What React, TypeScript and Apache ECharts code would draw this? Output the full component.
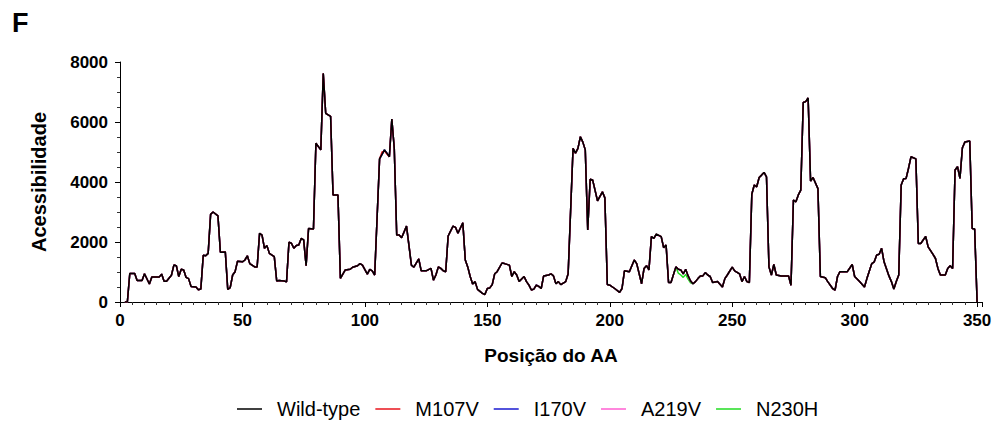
import React, { useEffect, useRef } from "react";
import * as echarts from "echarts";

const wildType: [number, number][] = [
  [2,0],[3,0],[4,950],[6,950],[7,720],[9,720],[10,940],[12,600],[13,830],[16,830],[17,930],[18,690],[19,690],[21,890],[22,1230],[23,1210],[24,850],[25,1090],[26,1070],[27,820],[28,780],[29,520],[31,500],[32,410],[33,430],[34,1560],[35,1540],[36,1620],[37,2920],[38,3000],[40,2870],[41,1660],[43,1670],[44,420],[45,480],[46,900],[47,1010],[48,1360],[50,1340],[51,1400],[52,1540],[53,1280],[55,1170],[56,1170],[57,2290],[58,2230],[59,1790],[60,1880],[61,1620],[63,1510],[64,700],[65,720],[67,700],[68,670],[69,1990],[70,1960],[71,1790],[72,1880],[73,1900],[74,2120],[75,2070],[76,1210],[77,2450],[79,2430],[80,5290],[82,5070],[83,7620],[84,6290],[86,6190],[87,3570],[89,3570],[90,790],[92,1070],[94,1090],[95,1160],[97,1210],[98,1280],[99,1230],[101,930],[102,1090],[103,1040],[104,900],[106,4770],[108,5070],[109,4960],[110,4840],[111,6100],[112,5120],[113,2230],[114,2230],[115,2140],[117,2530],[119,1230],[120,1160],[122,1440],[123,1040],[125,1040],[127,1120],[128,730],[129,900],[130,1170],[131,1120],[132,1040],[133,1010],[134,2200],[136,2530],[137,2490],[138,2290],[140,2640],[141,1400],[142,1170],[143,850],[144,600],[145,680],[146,420],[148,290],[149,250],[150,450],[151,470],[152,580],[153,940],[154,1010],[156,1300],[157,1280],[159,1230],[160,850],[161,1010],[162,900],[163,680],[165,850],[166,680],[167,560],[168,400],[169,430],[170,560],[171,520],[172,450],[173,870],[175,900],[176,940],[177,870],[178,610],[179,680],[180,580],[182,680],[183,940],[185,5120],[186,4960],[187,5120],[188,5510],[189,5330],[190,5070],[191,2400],[192,4090],[193,4070],[195,3370],[197,3670],[198,3470],[199,580],[200,560],[202,450],[204,320],[205,450],[206,1040],[208,1010],[210,1400],[211,1280],[213,610],[214,1120],[215,1210],[216,1070],[217,2180],[218,2120],[219,2260],[221,2180],[222,1810],[223,1900],[224,650],[225,650],[227,1170],[228,1090],[229,1070],[230,940],[231,1090],[232,870],[233,700],[234,610],[235,680],[236,780],[237,870],[238,870],[239,980],[240,900],[241,850],[242,650],[244,680],[246,500],[247,780],[248,900],[250,1160],[251,1040],[253,940],[254,680],[255,850],[256,680],[257,650],[258,3590],[259,3900],[260,3840],[261,4150],[262,4230],[263,4320],[264,4170],[265,1170],[266,900],[267,1250],[268,900],[270,870],[273,870],[274,560],[275,3400],[276,3340],[277,3570],[278,3730],[279,6650],[280,6680],[281,6800],[282,4030],[283,4150],[285,3780],[286,850],[288,810],[289,680],[291,450],[292,400],[293,850],[294,1010],[297,1010],[299,1250],[300,850],[302,680],[304,500],[305,780],[307,1280],[308,1340],[309,1570],[310,1590],[311,1790],[312,1340],[314,870],[315,680],[316,430],[317,680],[318,900],[319,3900],[320,4110],[321,4120],[322,4460],[323,4840],[325,4770],[326,1950],[327,1950],[329,2190],[330,1840],[332,1590],[333,1450],[334,1120],[335,900],[337,900],[338,1120],[339,1210],[340,1120],[341,4400],[342,4510],[343,4120],[344,5140],[345,5330],[347,5370],[348,2450],[349,2430],[350,0]
];

// Positions where each mutant differs from the wild type
const m107vDiff: [number, number][] = [[107,5000],[108,5030],[109,4930]];
const i170vDiff: [number, number][] = [[170,570]];
const a219vDiff: [number, number][] = [[219,2240],[220,2210]];
const n230hDiff: [number, number][] = [[228,960],[229,900],[230,820],[231,920],[232,760],[233,640]];

const seriesNames = ["Wild-type", "M107V", "I170V", "A219V", "N230H"];
const seriesColors = ["#000000", "#e8141c", "#1a1ad0", "#ff5fd2", "#22dd22"];

const xTicks = { min: 0, max: 352, interval: 50 };
const yTicks = { min: 0, max: 8000, interval: 2000 };

function withDiff(base: [number, number][], diff: [number, number][]) {
  const m = new Map<number, number>();
  base.forEach(([x, y]) => m.set(x, y));
  diff.forEach(([x, y]) => m.set(x, y));
  return Array.from(m.entries()).sort((a, b) => a[0] - b[0]);
}

export default function App() {
  const ref = useRef<HTMLDivElement>(null);
  useEffect(() => {
    document.body.style.margin = "0";
    const chart = echarts.init(ref.current!, null, { renderer: "svg" });
    const datasets = [
      wildType,
      withDiff(wildType, m107vDiff),
      withDiff(wildType, i170vDiff),
      withDiff(wildType, a219vDiff),
      withDiff(wildType, n230hDiff),
    ];
    const font = "Liberation Sans, Arial, sans-serif";
    chart.setOption({
      animation: false,
      backgroundColor: "#ffffff",
      title: {
        text: "F",
        left: 7,
        top: 4,
        textStyle: { fontSize: 27, fontWeight: "bold", color: "#000", fontFamily: font },
      },
      legend: {
        data: seriesNames,
        top: 394,
        left: 232,
        icon: "rect",
        itemWidth: 25,
        itemHeight: 1.5,
        itemGap: 15,
        textStyle: { fontSize: 20, color: "#000", fontFamily: font, padding: [0, 0, 0, 10] },
      },
      grid: { left: 120, right: 15, top: 62, bottom: 119 },
      xAxis: {
        type: "value",
        min: xTicks.min,
        max: xTicks.max,
        interval: xTicks.interval,
        name: "Posição do AA",
        nameLocation: "middle",
        nameGap: 44,
        nameTextStyle: { fontSize: 19, fontWeight: "bold", color: "#000", fontFamily: font },
        axisLine: { show: true, lineStyle: { color: "#000", width: 1 } },
        axisTick: { show: true, length: 5, lineStyle: { color: "#000" } },
        minorTick: { show: true, splitNumber: 10, length: 3, lineStyle: { color: "#333" } },
        axisLabel: { fontSize: 17, fontWeight: "bold", color: "#000", fontFamily: font, margin: 10, showMaxLabel: false },
        splitLine: { show: false },
      },
      yAxis: {
        type: "value",
        min: yTicks.min,
        max: yTicks.max,
        interval: yTicks.interval,
        name: "Acessibilidade",
        nameLocation: "middle",
        nameGap: 71,
        nameTextStyle: { fontSize: 20, fontWeight: "bold", color: "#000", fontFamily: font },
        axisLine: { show: true, lineStyle: { color: "#000", width: 1 } },
        axisTick: { show: true, length: 5, lineStyle: { color: "#000" } },
        minorTick: { show: true, splitNumber: 4, length: 3, lineStyle: { color: "#333" } },
        axisLabel: {
          fontSize: 17, fontWeight: "bold", color: "#000", fontFamily: font, margin: 12,
          formatter: (v: number) => String(v),
        },
        splitLine: { show: false },
      },
      series: seriesNames.map((name, i) => ({
        name,
        type: "line",
        data: datasets[i],
        symbol: "none",
        z: i === 0 ? 10 : 2 + (4 - i),
        color: seriesColors[i],
        lineStyle: { color: seriesColors[i], width: 1.5 },
      })),
    });
    return () => chart.dispose();
  }, []);
  return <div ref={ref} style={{ width: 997, height: 421, position: "absolute", left: 0, top: 0 }} />;
}
